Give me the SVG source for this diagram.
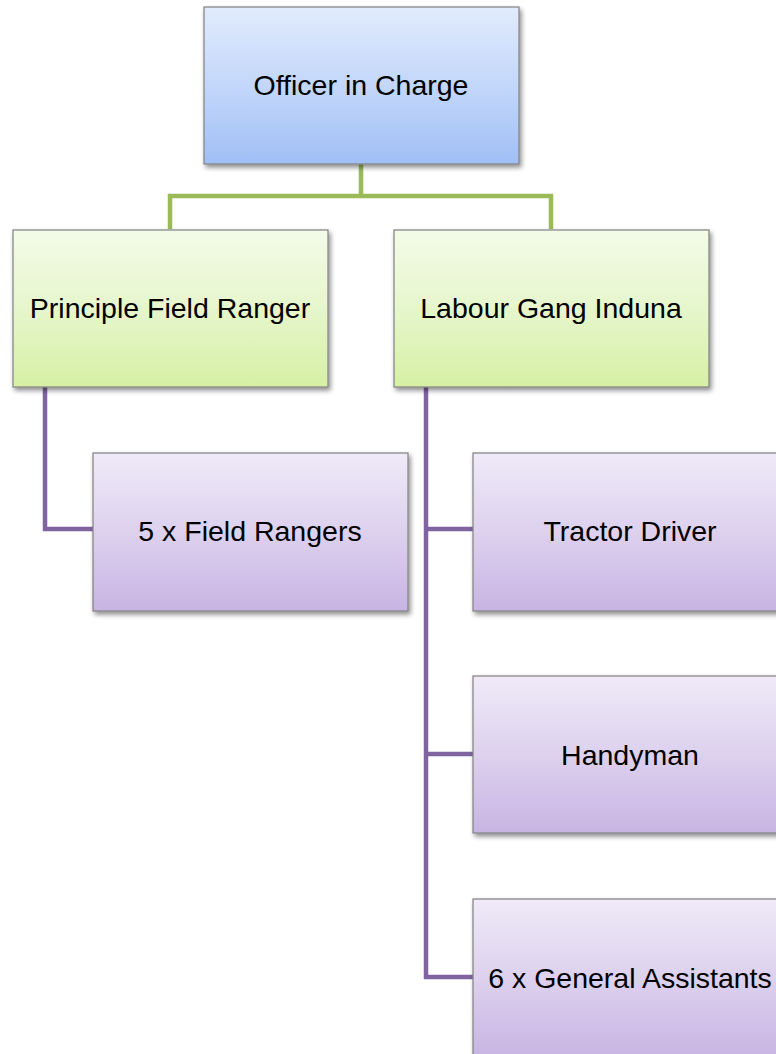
<svg xmlns="http://www.w3.org/2000/svg" width="776" height="1054" viewBox="0 0 776 1054">
<defs>
<linearGradient id="gBlue" x1="0" y1="0" x2="0" y2="1"><stop offset="0" stop-color="#e1ebfd"/><stop offset="0.5" stop-color="#c3d7fa"/><stop offset="1" stop-color="#a0bff5"/></linearGradient>
<linearGradient id="gGreen" x1="0" y1="0" x2="0" y2="1"><stop offset="0" stop-color="#f3fbe8"/><stop offset="0.5" stop-color="#e6f6cc"/><stop offset="1" stop-color="#d6f0a4"/></linearGradient>
<linearGradient id="gPurple" x1="0" y1="0" x2="0" y2="1"><stop offset="0" stop-color="#efeaf8"/><stop offset="0.5" stop-color="#ddd1ee"/><stop offset="1" stop-color="#c8b4e3"/></linearGradient>
<filter id="sh" x="-10%" y="-10%" width="125%" height="130%"><feGaussianBlur in="SourceAlpha" stdDeviation="2.5"/><feOffset dx="2" dy="3" result="b"/><feComponentTransfer><feFuncA type="linear" slope="0.45"/></feComponentTransfer><feMerge><feMergeNode/><feMergeNode in="SourceGraphic"/></feMerge></filter>
</defs>
<style>
.box{stroke:#808080;stroke-width:1.2;filter:url(#sh)}
.b{fill:url(#gBlue)}.g{fill:url(#gGreen)}.p{fill:url(#gPurple)}
.t{font-family:"Liberation Sans",Arial,sans-serif;font-size:28.5px;fill:#000;text-anchor:middle}
.cg{fill:none;stroke:#9bbb59;stroke-width:4.5}
.cp{fill:none;stroke:#8064a2;stroke-width:4.5}
</style>
<rect width="776" height="1054" fill="#fff"/>
<g id="connectors">
<path class="cg" d="M361,164 V196 M170,229 V196 H551 V229"/>
<path class="cp" d="M45,387 V529 H93"/>
<path class="cp" d="M426,387 V977 H473 M426,529 H473 M426,754 H473"/>
</g>
<g id="officer"><rect class="box b" x="204" y="7" width="315" height="157"/><text class="t" x="361" y="95">Officer in Charge</text></g>
<g id="principle"><rect class="box g" x="13" y="230" width="315" height="157"/><text class="t" x="170" y="318">Principle Field Ranger</text></g>
<g id="labour"><rect class="box g" x="394" y="230" width="315" height="157"/><text class="t" x="551" y="318">Labour Gang Induna</text></g>
<g id="fieldrangers"><rect class="box p" x="93" y="453" width="315" height="158"/><text class="t" x="250" y="541">5 x Field Rangers</text></g>
<g id="tractor"><rect class="box p" x="473" y="453" width="315" height="158"/><text class="t" x="630" y="541">Tractor Driver</text></g>
<g id="handyman"><rect class="box p" x="473" y="676" width="315" height="157"/><text class="t" x="630" y="765">Handyman</text></g>
<g id="assistants"><rect class="box p" x="473" y="899" width="315" height="158"/><text class="t" x="630" y="988">6 x General Assistants</text></g>
</svg>
